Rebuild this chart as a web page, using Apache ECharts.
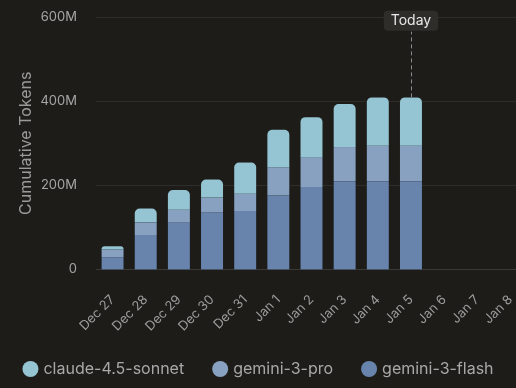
<!DOCTYPE html>
<html><head><meta charset="utf-8">
<script src="https://cdn.jsdelivr.net/npm/echarts@6/dist/echarts.min.js"></script>
<style>html,body{margin:0;padding:0;background:#1d1c18;}#c{width:516px;height:388px;}</style>
</head><body><div id="c"></div>
<script>
const categories = ['Dec 27','Dec 28','Dec 29','Dec 30','Dec 31','Jan 1','Jan 2','Jan 3','Jan 4','Jan 5','Jan 6','Jan 7','Jan 8'];
// cumulative tokens in millions (segment amounts per model)
const geminiFlash = [29, 82, 112, 136, 139, 176, 196, 210, 210, 210, null, null, null];
const geminiPro   = [19, 30, 30, 35, 41, 67, 71, 81, 84, 84, null, null, null];
const claudeSonnet= [7, 33, 47, 43, 74, 89, 95, 102, 115, 115, null, null, null];
const todayCategory = 'Jan 5';
const todayTop = 409;

const totals = categories.map((c,i)=> geminiFlash[i]==null ? null : geminiFlash[i]+geminiPro[i]+claudeSonnet[i]);

const chart = echarts.init(document.getElementById('c'));
const FONT = 'Inter, sans-serif';
chart.setOption({
  backgroundColor:'#1d1c18',
  animation:false,
  grid:{left:96, right:-11, top:17, bottom:118.5, outerBoundsMode:'none', containLabel:false},
  legend:{
    bottom:6, left:'center', icon:'circle', itemWidth:16, itemHeight:16, itemGap:28,
    textStyle:{color:'#a8a8a8', fontSize:16, fontFamily:FONT},
    data:['claude-4.5-sonnet','gemini-3-pro','gemini-3-flash']
  },
  xAxis:{
    type:'category', data:categories,
    axisLine:{lineStyle:{color:'#3a3936'}},
    axisTick:{show:false},
    axisLabel:{rotate:45, color:'#9c9c9c', fontSize:13, margin:28, fontFamily:FONT}
  },
  yAxis:{
    type:'value', min:0, max:600, interval:200,
    name:'Cumulative Tokens', nameLocation:'middle', nameGap:62, nameMoveOverlap:false,
    nameTextStyle:{color:'#9a9a9a', fontSize:16, fontFamily:FONT},
    splitLine:{lineStyle:{color:'#2e2d2a'}},
    axisLabel:{color:'#a5a5a5', fontSize:13, margin:19, fontFamily:FONT,
      formatter:v=> v===0?'0':v+'M'}
  },
  series:[
    {name:'outline', type:'bar', data:totals, barWidth:22, barGap:'-100%', z:1, silent:true,
      itemStyle:{color:'#0c0c0a', borderColor:'#0c0c0a', borderWidth:2, borderRadius:[6,6,0,0]}},
    {name:'gemini-3-flash', type:'bar', stack:'t', data:geminiFlash, barWidth:22, z:2,
      itemStyle:{color:'#6884ad'}},
    {name:'gemini-3-pro', type:'bar', stack:'t', data:geminiPro, barWidth:22, z:2,
      itemStyle:{color:'#88a1c1'}},
    {name:'claude-4.5-sonnet', type:'bar', stack:'t', data:claudeSonnet, barWidth:22, z:2,
      itemStyle:{color:'#95c4d2', borderRadius:[5,5,0,0]},
      markLine:{
        silent:true, symbol:['none','none'],
        lineStyle:{color:'#8a8a8a', type:[4,3], width:1},
        label:{show:true, position:'end', formatter:'Today', color:'#e8e8e8', fontSize:14,
          fontFamily:FONT,
          backgroundColor:'#2e2d2a', padding:[3,7], borderRadius:4, distance:1},
        data:[[{coord:[todayCategory, todayTop]},{coord:[todayCategory, 565]}]]
      }
    }
  ]
});
</script></body></html>
